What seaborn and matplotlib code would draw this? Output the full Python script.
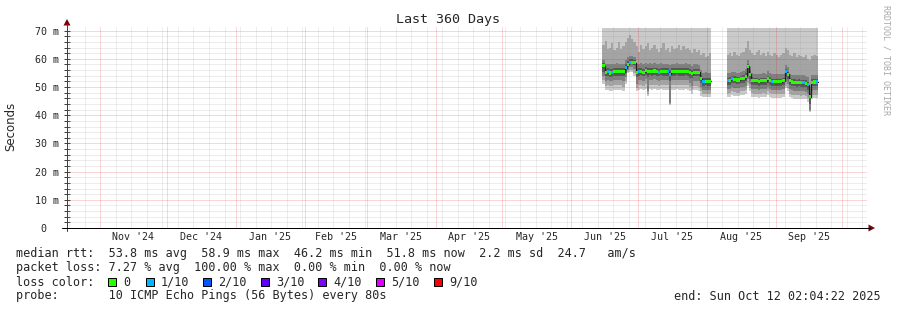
import datetime as dt
import numpy as np
import pandas as pd
import matplotlib
matplotlib.use("Agg")
import matplotlib.pyplot as plt
import matplotlib.dates as mdates
import matplotlib.transforms as mtransforms
from matplotlib.patches import Polygon, Rectangle
from matplotlib.lines import Line2D
import seaborn as sns

# ---------------- data ----------------
title = "Last 360 Days"
t_start = dt.datetime(2024, 10, 17, 2, 4, 22)
t_end = dt.datetime(2025, 10, 12, 2, 4, 22)
month_labels = ["Nov '24", "Dec '24", "Jan '25", "Feb '25", "Mar '25", "Apr '25",
                "May '25", "Jun '25", "Jul '25", "Aug '25", "Sep '25"]
y_ticks = [0, 10, 20, 30, 40, 50, 60, 70]
y_top = 71.3
smoke_cap = 71.0

# block 1: 2025-06-15 .. 2025-08-02 (daily)
b1_start = "2025-06-15"
median1 = [57.5, 55.3, 55.5, 55.0, 55.2, 55.4, 55.4, 55.5, 55.5, 55.5,
           56.8, 58.0, 58.7, 58.7, 58.7, 55.2, 55.4, 55.6, 55.3, 55.8,
           55.5, 55.6, 55.4, 55.7, 55.5, 55.3, 55.6, 55.5, 55.5, 55.4,
           54.6, 55.5, 55.4, 55.6, 55.5, 55.4, 55.5, 55.6, 55.5, 55.2,
           54.8, 55.3, 55.3, 55.3, 53.0, 52.0, 52.1, 52.0, 52.0]
loss1 = [0, 0, 1, 0, 1, 0, 0, 0, 0, 0,
         1, 0, 1, 0, 0, 0, 1, 0, 0, 0,
         0, 0, 0, 0, 0, 1, 0, 0, 0, 1,
         1, 0, 0, 0, 0, 0, 0, 0, 0, 0,
         0, 0, 0, 0, 0, 1, 0, 0, 0]
p8_1 = [65.0, 66.5, 63.5, 64.0, 65.5, 63.0, 64.0, 66.0, 63.5, 64.5,
        66.0, 67.5, 68.5, 67.0, 66.0, 64.5, 62.5, 65.0, 63.5, 64.5,
        65.5, 63.0, 64.0, 65.0, 63.5, 62.5, 64.0, 65.5, 63.0, 64.0,
        62.5, 64.5, 63.5, 64.0, 65.0, 63.0, 64.5, 63.5, 64.0, 63.0,
        62.0, 63.5, 62.5, 63.0, 61.5, 62.0, 60.5, 61.0, 62.0]
p7_1 = [59.5, 58.0, 58.3, 58.0, 58.2, 58.0, 58.4, 58.2, 58.0, 58.3,
        59.5, 60.5, 61.0, 61.0, 60.8, 58.3, 58.0, 58.4, 58.2, 58.5,
        58.3, 58.4, 58.0, 58.5, 58.2, 58.0, 58.4, 58.3, 58.1, 58.2,
        57.8, 58.3, 58.1, 58.4, 58.2, 58.0, 58.3, 58.4, 58.2, 58.0,
        57.5, 58.0, 58.1, 57.9, 56.0, 55.0, 55.2, 55.0, 55.1]
p6_1 = [58.5, 56.5, 56.7, 56.3, 56.5, 56.6, 56.7, 56.8, 56.7, 56.8,
        58.0, 59.3, 59.8, 59.8, 59.7, 56.5, 56.6, 56.8, 56.5, 57.0,
        56.8, 56.8, 56.6, 56.9, 56.7, 56.5, 56.8, 56.7, 56.7, 56.6,
        56.0, 56.7, 56.6, 56.8, 56.7, 56.6, 56.7, 56.8, 56.7, 56.4,
        56.0, 56.5, 56.5, 56.5, 54.3, 53.2, 53.3, 53.2, 53.2]
p5_1 = [55.5, 53.8, 54.0, 53.5, 53.7, 53.9, 53.9, 54.0, 54.0, 54.0,
        55.0, 57.2, 58.0, 58.0, 57.8, 53.6, 53.9, 54.1, 53.8, 54.3,
        53.5, 54.1, 53.9, 54.2, 54.0, 53.8, 54.1, 54.0, 54.0, 53.9,
        52.0, 54.0, 53.9, 54.1, 54.0, 53.9, 54.0, 54.1, 54.0, 53.2,
        53.2, 53.8, 53.8, 53.8, 51.5, 50.5, 50.6, 50.5, 50.5]
p4_1 = [54.0, 52.2, 52.5, 52.0, 52.2, 52.4, 52.4, 52.5, 52.5, 52.2,
        53.5, 56.0, 57.0, 57.0, 56.5, 51.0, 52.4, 52.6, 52.3, 52.8,
        48.5, 52.6, 52.4, 52.7, 52.5, 52.3, 52.6, 52.5, 52.5, 52.4,
        44.5, 52.5, 52.4, 52.6, 52.5, 52.4, 52.5, 52.6, 52.5, 51.5,
        50.5, 52.3, 52.3, 52.0, 50.0, 49.0, 49.1, 49.0, 49.0]
p3_1 = [52.5, 50.5, 50.7, 50.2, 50.4, 50.6, 50.6, 50.7, 50.7, 50.0,
        52.0, 55.5, 56.0, 56.0, 55.0, 49.5, 50.6, 50.8, 50.5, 51.0,
        47.5, 50.8, 50.6, 50.9, 50.7, 50.5, 50.8, 50.7, 50.7, 50.6,
        44.0, 50.7, 50.6, 50.8, 50.7, 50.6, 50.7, 50.8, 50.7, 50.0,
        49.0, 50.5, 50.5, 50.0, 48.5, 47.5, 47.6, 47.5, 47.5]
p2_1 = [51.0, 49.0, 49.0, 48.5, 48.7, 49.0, 49.0, 49.0, 49.0, 48.5,
        51.0, 55.0, 55.3, 55.3, 54.0, 48.5, 49.0, 49.2, 48.8, 49.3,
        47.0, 49.2, 49.0, 49.3, 49.0, 48.8, 49.2, 49.0, 49.0, 49.0,
        43.5, 49.0, 49.0, 49.2, 49.0, 49.0, 49.0, 49.2, 49.0, 48.5,
        47.5, 49.0, 49.0, 48.5, 47.0, 46.5, 46.6, 46.5, 46.5]

# block 2: 2025-08-10 .. 2025-09-19 (daily)
b2_start = "2025-08-10"
median2 = [52.2, 52.4, 53.0, 52.8, 52.5, 52.5, 53.0, 53.0, 53.8, 57.3,
           54.5, 52.4, 52.2, 52.2, 52.0, 52.2, 52.3, 52.2, 53.0, 52.4,
           52.0, 52.0, 52.0, 52.0, 51.9, 52.2, 55.5, 54.5, 52.2, 51.8,
           51.7, 51.6, 51.7, 51.5, 51.6, 51.4, 50.8, 46.5, 51.7, 51.8,
           51.8]
loss2 = [1, 0, 1, 0, 0, 0, 0, 0, 0, 0,
         0, 0, 0, 0, 0, 0, 0, 0, 0, 0,
         1, 0, 0, 0, 0, 0, 1, 0, 0, 0,
         0, 0, 0, 0, 1, 0, 1, 0, 0, 0,
         1]
p8_2 = [61.5, 62.0, 61.0, 62.5, 61.5, 61.0, 62.0, 62.5, 64.0, 66.5,
        63.0, 62.0, 61.5, 62.5, 63.0, 61.5, 62.0, 61.0, 62.5, 61.5,
        61.0, 62.0, 61.5, 60.5, 61.5, 62.0, 64.0, 63.0, 61.5, 61.0,
        62.0, 60.5, 61.5, 61.0, 60.5, 61.5, 60.0, 59.5, 61.0, 61.5,
        61.0]
p7_2 = [55.0, 55.0, 55.5, 55.4, 55.0, 55.1, 55.5, 55.6, 56.5, 59.5,
        57.0, 55.0, 54.8, 54.8, 54.6, 54.8, 54.9, 54.8, 55.6, 55.0,
        54.6, 54.6, 54.6, 54.6, 54.5, 54.8, 57.8, 57.0, 54.8, 54.4,
        54.3, 54.2, 54.3, 54.1, 54.2, 54.0, 53.5, 50.0, 54.3, 54.4,
        54.4]
p6_2 = [53.3, 53.4, 54.0, 53.8, 53.5, 53.5, 54.0, 54.1, 54.9, 58.3,
        55.6, 53.4, 53.2, 53.2, 53.0, 53.2, 53.3, 53.2, 54.0, 53.4,
        53.0, 53.0, 53.0, 53.0, 52.9, 53.2, 56.5, 55.5, 53.2, 52.8,
        52.7, 52.6, 52.7, 52.5, 52.6, 52.4, 51.8, 48.0, 52.7, 52.8,
        52.8]
p5_2 = [50.7, 50.9, 51.5, 51.3, 51.0, 51.0, 51.5, 51.5, 52.0, 55.0,
        52.8, 50.9, 50.7, 50.7, 50.5, 50.7, 50.8, 50.7, 51.5, 50.9,
        50.5, 50.5, 50.5, 50.5, 50.4, 50.7, 53.5, 53.0, 50.7, 50.3,
        50.2, 50.1, 50.2, 50.0, 50.1, 49.9, 49.0, 44.0, 50.2, 50.3,
        50.3]
p4_2 = [49.2, 49.4, 50.0, 49.8, 49.5, 49.5, 50.0, 50.0, 50.5, 53.0,
        51.0, 49.4, 49.2, 49.2, 49.0, 49.2, 49.3, 49.2, 50.0, 49.4,
        49.0, 49.0, 49.0, 49.0, 48.9, 49.2, 52.0, 51.0, 49.2, 48.8,
        48.7, 48.6, 48.7, 48.5, 48.6, 48.4, 47.5, 42.0, 48.7, 48.8,
        48.8]
p3_2 = [47.7, 47.9, 48.5, 48.3, 48.0, 48.0, 48.5, 48.5, 49.0, 51.5,
        49.5, 47.9, 47.7, 47.7, 47.5, 47.7, 47.8, 47.7, 48.5, 47.9,
        47.5, 47.5, 47.5, 47.5, 47.4, 47.7, 50.5, 49.5, 47.7, 47.3,
        47.2, 47.1, 47.2, 47.0, 47.1, 46.9, 46.0, 41.5, 47.2, 47.3,
        47.3]
p2_2 = [46.4, 46.6, 47.2, 47.0, 46.7, 46.7, 47.2, 47.2, 47.5, 50.5,
        48.5, 46.6, 46.4, 46.4, 46.2, 46.4, 46.5, 46.4, 47.2, 46.6,
        46.2, 46.2, 46.2, 46.2, 46.1, 46.4, 49.5, 48.5, 46.4, 46.0,
        45.9, 45.8, 45.9, 45.7, 45.8, 45.6, 44.8, 41.0, 45.9, 46.0,
        46.0]

loss_labels = ["0", "1/10", "2/10", "3/10", "4/10", "5/10", "9/10"]
loss_colors = ["#26ff00", "#00b8ff", "#0059ff", "#5e00ff", "#7e00ff", "#dd00ff", "#ff0000"]

legend_rtt = "median rtt:  53.8 ms avg  58.9 ms max  46.2 ms min  51.8 ms now  2.2 ms sd  24.7   am/s"
legend_loss = "packet loss: 7.27 % avg  100.00 % max  0.00 % min  0.00 % now"
legend_color = "loss color:"
legend_probe = "probe:       10 ICMP Echo Pings (56 Bytes) every 80s"
legend_end = "end: Sun Oct 12 02:04:22 2025"
side_text = "RRDTOOL / TOBI OETIKER"
y_label = "Seconds"

# ---------------- figure ----------------
W, H, DPI = 897, 310, 100
sns.set_style("white")
plt.rcParams["font.family"] = ["DejaVu Sans Mono", "DejaVu Sans"]
PX = 72.0 / DPI  # one pixel in points

fig = plt.figure(figsize=(W / DPI, H / DPI), dpi=DPI)
fig.patch.set_facecolor("white")
AX_L, AX_R, AX_T, AX_B = 67, 867, 27, 228
ax = fig.add_axes([AX_L / W, 1 - AX_B / H, (AX_R - AX_L) / W, (AX_B - AX_T) / H])
ax.set_facecolor("white")
for s in ax.spines.values():
    s.set_visible(False)

x0 = mdates.date2num(t_start)
x1 = mdates.date2num(t_end)
ax.set_xlim(x0, x1)
ax.set_ylim(0, y_top)


def ext(a):
    a = np.asarray(a, dtype=float)
    return np.append(a, a[-1])


def draw_block(start, med, loss, p2, p3, p4, p5, p6, p7, p8):
    n = len(med)
    days = pd.date_range(start, periods=n + 1, freq="D")
    x = mdates.date2num(days.to_pydatetime())
    cap = np.full(n, smoke_cap)
    layers = [(p2, cap, "#cacaca"), (p3, p8, "#a4a4a4"),
              (p4, p7, "#7e7e7e"), (p5, p6, "#585858")]
    for lo, hi, c in layers:
        ax.fill_between(x, ext(lo), ext(hi), step="post", color=c, lw=0, zorder=1)
    df = pd.DataFrame({"x": x, "median": ext(med)})
    sns.lineplot(data=df, x="x", y="median", drawstyle="steps-post",
                 color="#202020", lw=0.9, ax=ax, zorder=4, legend=False)
    med = np.asarray(med, dtype=float)
    cols = [loss_colors[int(l)] for l in loss]
    h = 0.55
    ax.bar(x[:-1], 2 * h, bottom=med - h, width=1.0, align="edge",
           color=cols, linewidth=0, zorder=5)


draw_block(b1_start, median1, loss1, p2_1, p3_1, p4_1, p5_1, p6_1, p7_1, p8_1)
draw_block(b2_start, median2, loss2, p2_2, p3_2, p4_2, p5_2, p6_2, p7_2, p8_2)
ax.set_xlabel("")
ax.set_ylabel("")

# grid (drawn over the smoke, translucent dotted)
grid_gray = dict(color="#8f8f8f", alpha=0.3, lw=PX, ls=(0, (1, 1)), zorder=3)
grid_red = dict(color="#e50000", alpha=0.32, lw=PX, ls=(0, (1, 1)), zorder=3)
for v in range(2, 72, 2):
    ax.axhline(v, **(grid_red if v % 10 == 0 else grid_gray))
months = pd.date_range("2024-11-01", "2025-10-01", freq="MS")
weeks = pd.date_range("2024-10-18", "2025-10-12", freq="7D")
weeks = [d for d in weeks if d not in set(months)]
for d in weeks:
    ax.axvline(mdates.date2num(d.to_pydatetime()), **grid_gray)
for d in months:
    ax.axvline(mdates.date2num(d.to_pydatetime()), **grid_red)

# ticks
ax.set_yticks(y_ticks)
ax.set_yticklabels([f"{v} m" if v else "0  " for v in y_ticks])
ax.set_yticks(list(range(0, 72, 2)), minor=True)
ax.tick_params(axis="y", which="both", direction="inout", length=4, width=PX,
               color="#404040", labelsize=7.2, pad=3.6, left=True)
ax.set_xticks([])

# month labels
blend = mtransforms.blended_transform_factory(ax.transData, fig.transFigure)
for d, lab in zip(months[:-1], month_labels):
    mid = d + (d + pd.offsets.MonthBegin(1) - d) / 2
    ax.text(mdates.date2num(mid.to_pydatetime()), 1 - 237.5 / H, lab, transform=blend,
            ha="center", va="center", fontsize=7.2, family="DejaVu Sans Mono")


def fx(x):
    return x / W


def fy(y):
    return 1 - y / H


# axis lines and arrows
fig.add_artist(Line2D([fx(67), fx(67)], [fy(231), fy(24)], color="#404040", lw=PX))
fig.add_artist(Line2D([fx(62), fx(870)], [fy(228), fy(228)], color="#000000", lw=PX))
fig.add_artist(Polygon([[fx(67), fy(19)], [fx(63.5), fy(25.5)], [fx(70.5), fy(25.5)]],
                       closed=True, color="#7f0000", lw=0))
fig.add_artist(Polygon([[fx(875), fy(228)], [fx(868.5), fy(224.5)], [fx(868.5), fy(231.5)]],
                       closed=True, color="#7f0000", lw=0))

# texts
fig.text(fx(448), fy(19), title, ha="center", va="center", fontsize=9.6,
         family="DejaVu Sans Mono")
fig.text(fx(11), fy(126), y_label, rotation=90, ha="center", va="center",
         fontsize=8.5, family="DejaVu Sans")
fig.text(fx(886), fy(60), side_text, rotation=270, ha="center", va="center",
         fontsize=6.0, color="#a8a8a8", family="DejaVu Sans Mono")

LF = dict(fontsize=8.5, family="DejaVu Sans Mono", va="center", ha="left")
fig.text(fx(16), fy(254), legend_rtt, **LF)
fig.text(fx(16), fy(268), legend_loss, **LF)
fig.text(fx(16), fy(282), legend_color, **LF)
fig.text(fx(16), fy(296), legend_probe, **LF)
fig.text(fx(881), fy(296), legend_end, fontsize=8.5, family="DejaVu Sans Mono",
         va="center", ha="right")

box_x = [108, 145.7, 203, 261, 318, 376, 434]
for bx, lab, col in zip(box_x, loss_labels, loss_colors):
    fig.add_artist(Rectangle((fx(bx), fy(286)), 8 / W, 8 / H, facecolor=col,
                             edgecolor="black", lw=PX, transform=fig.transFigure))
    fig.text(fx(bx + 15), fy(282), lab, **LF)

fig.savefig("out.png", dpi=DPI, facecolor="white")
